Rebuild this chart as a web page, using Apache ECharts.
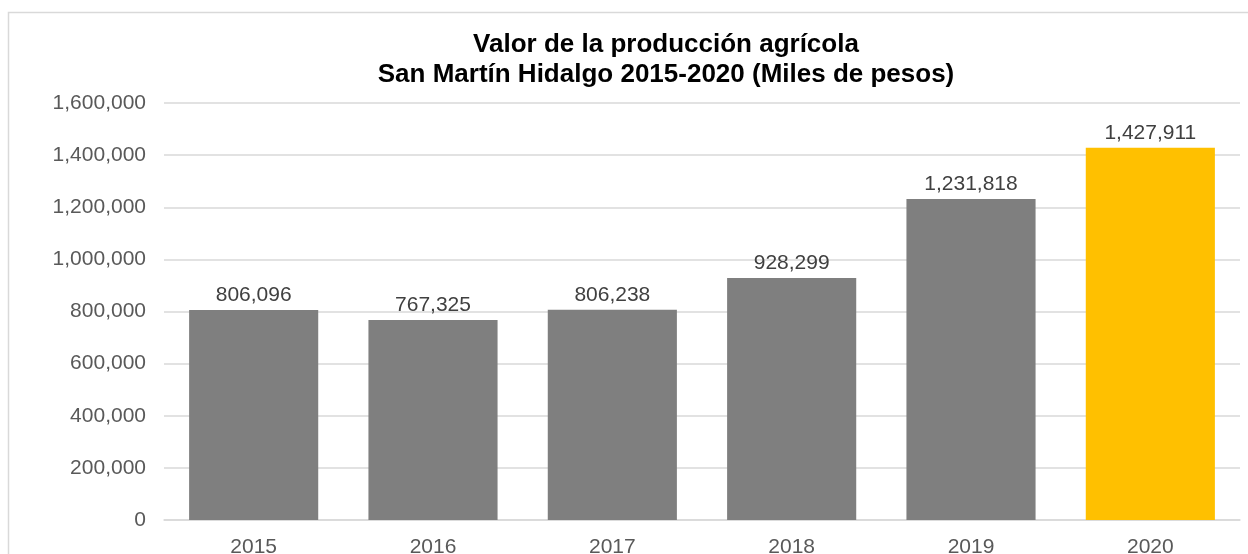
<!DOCTYPE html>
<html>
<head>
<meta charset="utf-8">
<script src="https://cdn.jsdelivr.net/npm/echarts@6/dist/echarts.min.js"></script>
<style>
    html, body { margin: 0; padding: 0; background: #fff; }
    #chart { width: 1248px; height: 554px; }
</style>
</head>
<body>
<div id="chart"></div>
<script>
    // datos
    const years = ['2015', '2016', '2017', '2018', '2019', '2020']
    const values = [806096, 767325, 806238, 928299, 1231818, 1427911]
    const barColors = ['#7f7f7f', '#7f7f7f', '#7f7f7f', '#7f7f7f', '#7f7f7f', '#ffc000']

    const fmt = v => Number(v).toLocaleString('en-US')

    let myChart = echarts.init(document.getElementById('chart'))
    myChart.setOption({
        animation: false,
        textStyle: { fontFamily: 'Liberation Sans, Arial, sans-serif' },
        graphic: [{
            type: 'rect',
            shape: { x: 8.5, y: 12.5, width: 1400, height: 700 },
            style: { fill: 'none', stroke: '#d9d9d9', lineWidth: 1.5 },
            silent: true
        }],
        title: {
            text: 'Valor de la producción agrícola\nSan Martín Hidalgo 2015-2020 (Miles de pesos)',
            left: 661,
            top: 25,
            textAlign: 'center',
            textStyle: {
                fontFamily: 'Liberation Sans, Arial, sans-serif',
                fontSize: 26,
                fontWeight: 'bold',
                color: '#000',
                lineHeight: 30
            }
        },
        grid: { left: 164, right: 8, top: 103, bottom: 34, outerBoundsMode: 'none', containLabel: false },
        xAxis: {
            type: 'category',
            data: years,
            axisLine: { lineStyle: { color: '#d9d9d9', width: 1.5 } },
            axisTick: { show: false },
            axisLabel: { color: '#595959', fontSize: 21, margin: 17 }
        },
        yAxis: {
            type: 'value',
            min: 0,
            max: 1600000,
            interval: 200000,
            axisLine: { show: false },
            axisTick: { show: false },
            splitLine: { lineStyle: { color: '#d9d9d9', width: 1.5 } },
            axisLabel: { color: '#595959', fontSize: 21, margin: 18, formatter: fmt }
        },
        series: [{
            type: 'bar',
            barWidth: '72%',
            data: values.map((v, i) => ({ value: v, itemStyle: { color: barColors[i] } })),
            label: {
                show: true,
                position: 'top',
                distance: 4,
                color: '#404040',
                fontSize: 21,
                formatter: p => fmt(p.value)
            }
        }]
    })
</script>
</body>
</html>
